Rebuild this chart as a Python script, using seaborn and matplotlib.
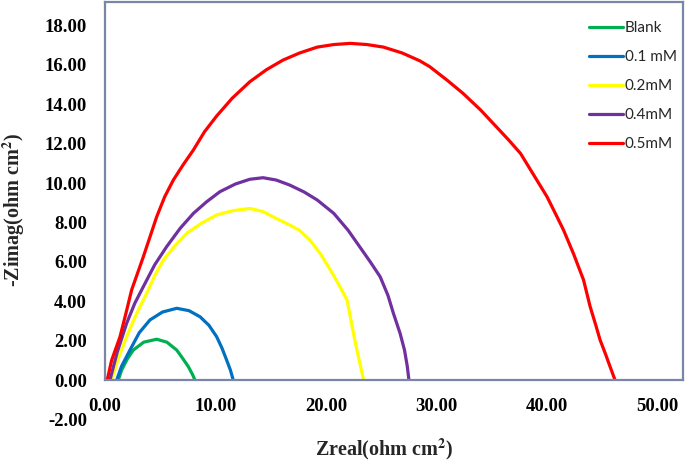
import matplotlib
matplotlib.use("Agg")
import matplotlib.pyplot as plt
from matplotlib.lines import Line2D
import seaborn as sns
import pandas as pd
import numpy as np

# ---- data ----
blank_x = [1.2, 1.5, 2.0, 2.56, 3.5, 4.68, 5.6, 6.49, 7.0, 7.54, 7.9, 8.14]
blank_y = [0.0, 0.5, 1.05, 1.52, 1.92, 2.07, 1.92, 1.52, 1.12, 0.68, 0.3, 0.0]

c01_x = [1.06, 1.5, 2.26, 3.1, 4.07, 5.2, 6.49, 7.6, 8.6, 9.4, 10.1, 10.6, 11.0, 11.35, 11.6]
c01_y = [0.0, 0.7, 1.52, 2.4, 3.05, 3.45, 3.64, 3.52, 3.21, 2.78, 2.2, 1.6, 1.02, 0.5, 0.0]

c02_x = [0.6, 1.2, 1.96, 2.8, 3.77, 4.5, 5.28, 6.3, 7.4, 8.7, 10.1, 11.6, 13.1, 14.3, 15.5, 16.6,
         17.6, 18.55, 19.5, 20.4, 21.2, 21.9, 22.2, 22.6, 23.0, 23.4]
c02_y = [0.0, 1.1, 2.2, 3.3, 4.4, 5.3, 6.09, 6.8, 7.45, 7.95, 8.38, 8.6, 8.71, 8.55, 8.2, 7.9,
         7.6, 7.1, 6.4, 5.58, 4.8, 4.06, 3.2, 2.03, 1.0, 0.0]

c04_x = [0.45, 1.1, 1.96, 2.7, 3.47, 4.5, 5.58, 6.8, 8.0, 9.2, 10.4, 11.8, 13.1, 14.3, 15.5, 16.7,
         18.0, 19.2, 20.7, 22.0, 23.0, 24.0, 24.9, 25.6, 26.1, 26.7, 27.1, 27.35, 27.5]
c04_y = [0.0, 1.4, 2.88, 3.9, 4.74, 5.85, 6.77, 7.7, 8.46, 9.05, 9.56, 9.95, 10.19, 10.27, 10.15, 9.9,
         9.55, 9.14, 8.46, 7.6, 6.8, 6.0, 5.24, 4.3, 3.38, 2.37, 1.52, 0.7, 0.0]

c05_x = [0.2, 0.6, 1.36, 1.9, 2.41, 3.47, 4.68, 5.4, 6.18, 7.1, 8.0, 9.0, 10.1, 11.5, 13.1, 14.6, 16.1,
         17.6, 19.2, 20.7, 22.2, 23.7, 25.2, 26.9, 28.5, 29.4, 31.0, 32.4, 34.0, 35.4, 36.5, 37.6,
         38.8, 40.0, 40.8, 41.5, 42.4, 43.3, 43.9, 44.4, 44.8, 45.3, 45.7, 46.15]
c05_y = [0.0, 1.0, 2.2, 3.4, 4.57, 6.26, 8.29, 9.3, 10.15, 10.95, 11.68, 12.6, 13.4, 14.3, 15.14, 15.75,
         16.24, 16.6, 16.9, 17.03, 17.09, 17.03, 16.9, 16.6, 16.2, 15.9, 15.2, 14.55, 13.7, 12.86,
         12.2, 11.5, 10.4, 9.3, 8.4, 7.6, 6.4, 5.08, 3.72, 2.8, 2.03, 1.3, 0.68, 0.0]

labels = ["Blank", "0.1 mM", "0.2mM", "0.4mM", "0.5mM"]
colors = ["#00B050", "#0070C0", "#FFFF00", "#7030A0", "#FF0000"]
x_ticks = [0, 10, 20, 30, 40, 50]
y_ticks = [-2, 0, 2, 4, 6, 8, 10, 12, 14, 16, 18]

series = [(blank_x, blank_y), (c01_x, c01_y), (c02_x, c02_y), (c04_x, c04_y), (c05_x, c05_y)]
frames = []
for lab, (xs, ys) in zip(labels, series):
    frames.append(pd.DataFrame({"Zreal": xs, "Zimag": ys, "series": lab}))
df = pd.concat(frames, ignore_index=True)

sns.set_theme(style="white")
plt.rcParams["axes.unicode_minus"] = False
plt.rcParams["mathtext.fontset"] = "stix"

W, H = 685, 461
fig = plt.figure(figsize=(W / 100, H / 100), dpi=100)
ax_left, ax_right = 105 / W, 683 / W
ax_top = 1 - 2 / H
ax_bottom = 1 - 419.4 / H
ax = fig.add_axes([ax_left, ax_bottom, ax_right - ax_left, ax_top - ax_bottom])

sns.lineplot(data=df, x="Zreal", y="Zimag", hue="series", hue_order=labels,
             palette=dict(zip(labels, colors)), sort=False, estimator=None,
             units="series", lw=2.3, ax=ax, legend=False,
             solid_joinstyle="round", solid_capstyle="butt")

ytop = 19.19
ax.set_xlim(0, 52.3)
ax.set_ylim(-2, ytop)

spine_c = "#7A86A8"
for s in ["left", "right", "top", "bottom"]:
    ax.spines[s].set_color(spine_c)
    ax.spines[s].set_linewidth(1.6)
ax.spines["left"].set_bounds(0, ytop)
ax.spines["right"].set_bounds(0, ytop)
ax.spines["bottom"].set_position(("data", 0))

ax.set_xticks(x_ticks)
ax.set_yticks(y_ticks)
ax.set_xticklabels([f"{v:.2f}" for v in x_ticks])
ax.set_yticklabels([f"{v:.2f}" for v in y_ticks])
for t in ax.get_xticklabels() + ax.get_yticklabels():
    t.set_fontfamily("Liberation Serif")
    t.set_fontweight("bold")
    t.set_fontsize(13.5)
ax.tick_params(axis="x", length=0, pad=13, colors="black")
ax.tick_params(axis="y", length=0, pad=13, colors="black")
ax.set_xlabel("")
ax.set_ylabel("")

lab_font = dict(family="Liberation Serif", weight="bold", size=14.5)
fig.text(384 / W, 1 - 455 / H, r"Zreal(ohm cm$^{\mathbf{2}}$)", ha="center", va="baseline", **lab_font)
fig.text(14 / W, 1 - 210 / H, r"-Zimag(ohm cm$^{\mathbf{2}}$)", ha="center", va="center",
         rotation=90, **lab_font)

handles = [Line2D([0], [0], color=c, lw=2.3) for c in colors]
ax.legend(handles, labels, loc="upper left", bbox_to_anchor=(589 / W, 1 - 21 / H),
          bbox_transform=fig.transFigure, frameon=False, borderpad=0, borderaxespad=0,
          handlelength=2.2, handletextpad=0.13, labelspacing=0.98,
          prop=dict(family="Lato", size=11))

fig.savefig("out.png", dpi=100)
